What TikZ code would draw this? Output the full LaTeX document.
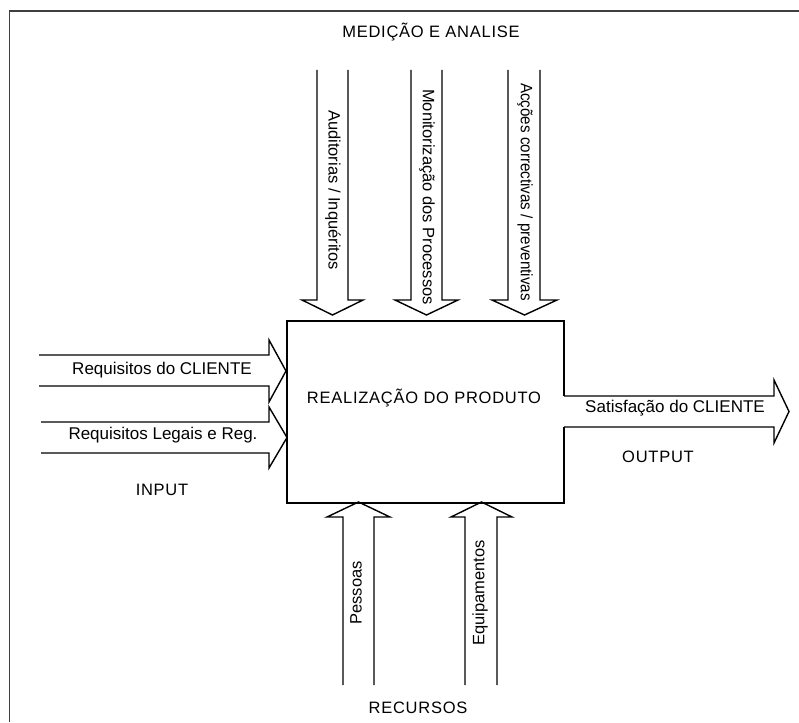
\documentclass[tikz,border=0pt]{standalone}
\usepackage{fontspec}
\setmainfont{Liberation Sans}
\begin{document}
\begin{tikzpicture}[x=1pt,y=-1pt,
  blockarrow/.style={draw=black,line width=1.4pt,line join=miter},
  frameline/.style={draw=black!75,line width=1.6pt},
  lbl/.style={inner sep=0pt,font=\fontsize{17}{19}\selectfont},
  vlbl/.style={inner sep=0pt,font=\fontsize{16.5}{19}\selectfont},
  titletext/.style={inner sep=0pt,font=\fontsize{16.5}{19}\selectfont\addfontfeature{LetterSpace=4.5}}]
\useasboundingbox (0,0) rectangle (799,722);

% outer frame (top and left edges)
\draw[frameline] (799,11) -- (9.5,11) -- (9.5,722);

% process box, open on the right where the output leaves
\coordinate (boxOutTop) at (564,396);
\coordinate (boxOutBot) at (564,427);
\draw[blockarrow] (boxOutTop) -- (564,321) -- (287,321) -- (287,503) -- (564,503) -- (boxOutBot);
\node[titletext] (prod) at (424,398) {REALIZAÇÃO DO PRODUTO};

% measurement arrows from the top
\draw[blockarrow] (317,70) -- (317,300) -- (302,300) -- (332.5,315) -- (363,300) -- (348,300) -- (348,70);
\draw[blockarrow] (411,70) -- (411,300) -- (395,300) -- (426.5,315) -- (458,300) -- (442,300) -- (442,70);
\draw[blockarrow] (508,70) -- (508,300) -- (492,300) -- (524.5,315) -- (557,300) -- (540,300) -- (540,70);
\node[titletext] (medicao) at (431,32) {MEDIÇÃO E ANALISE};
\node[vlbl,rotate=-90] (aud) at (333,190) {Auditorias / Inquéritos};
\node[vlbl,rotate=-90] (mon) at (427,197) {Monitorização dos Processos};
\node[vlbl,rotate=-90,xscale=0.92] (acc) at (525,192) {Acções correctivas / preventivas};

% input arrows from the left
\draw[blockarrow] (39,355) -- (269,355) -- (269,340) -- (286,371) -- (269,402) -- (269,386) -- (39,386);
\draw[blockarrow] (41,422) -- (269,422) -- (269,407) -- (287,437.5) -- (269,468) -- (269,453) -- (41,453);
\node[lbl] (reqcli) at (162,370) {Requisitos do CLIENTE};
\node[lbl] (reqleg) at (163,435) {Requisitos Legais e Reg.};
\node[titletext] (input) at (162,490) {INPUT};

% output arrow to the right
\draw[blockarrow] (boxOutTop) -- (774,396) -- (774,380) -- (789,411.5) -- (774,443) -- (774,427) -- (boxOutBot);
\node[lbl] (satis) at (675,408) {Satisfação do CLIENTE};
\node[titletext] (output) at (658,457) {OUTPUT};

% resource arrows from the bottom
\draw[blockarrow] (343,685) -- (343,517) -- (327,517) -- (358.5,502) -- (390,517) -- (374,517) -- (374,685);
\draw[blockarrow] (465,685) -- (465,517) -- (451,517) -- (481.5,502) -- (512,517) -- (497,517) -- (497,685);
\node[vlbl,rotate=90] (pessoas) at (356,593) {Pessoas};
\node[vlbl,rotate=90] (equip) at (480,593) {Equipamentos};
\node[titletext] (recursos) at (418,708) {RECURSOS};
\end{tikzpicture}
\end{document}
